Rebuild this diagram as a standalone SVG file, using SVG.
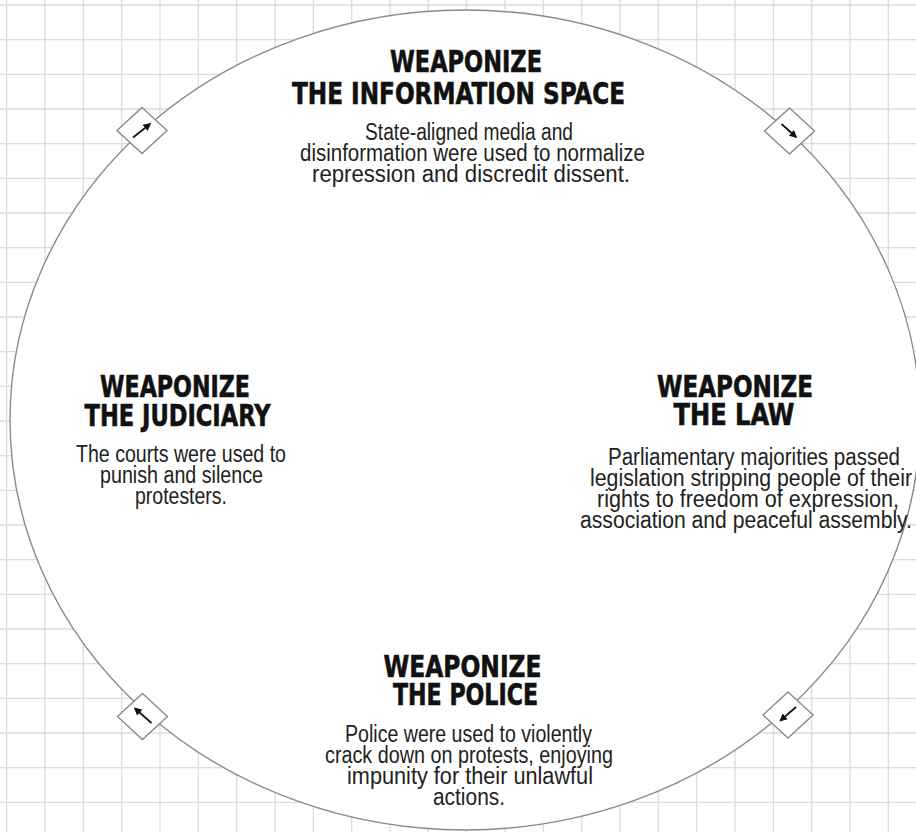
<svg xmlns="http://www.w3.org/2000/svg" width="916" height="832" viewBox="0 0 916 832">
<defs>
<style>
.grid line{stroke:#dcdcdc;stroke-width:1.3}
.ring{fill:#fff;stroke:#8a8a8a;stroke-width:1.4}
.dia{fill:#fff;stroke:#8a8a8a;stroke-width:1.4}
.arr{stroke:#111;stroke-width:1.7;fill:none;marker-end:url(#ah)}
.t{font-family:"Liberation Sans Narrow","DejaVu Sans Condensed","Liberation Sans",sans-serif;font-weight:bold;font-size:31px;fill:#111;stroke:#111;stroke-width:0.6;text-anchor:middle}
.b{font-family:"Liberation Sans Narrow","Liberation Sans",Arial,sans-serif;font-size:23px;fill:#222;text-anchor:middle}
</style>
<marker id="ah" viewBox="0 0 10 10" refX="8" refY="5" markerWidth="4.6" markerHeight="4.6" orient="auto" markerUnits="strokeWidth">
<path d="M0,0 L10,5 L0,10 z" fill="#111"/>
</marker>
</defs>
<rect width="916" height="832" fill="#fff"/>
<g class="grid">
<line x1="6.7" y1="0" x2="6.7" y2="832"/><line x1="45" y1="0" x2="45" y2="832"/><line x1="83.3" y1="0" x2="83.3" y2="832"/><line x1="121.7" y1="0" x2="121.7" y2="832"/><line x1="160" y1="0" x2="160" y2="832"/><line x1="198.3" y1="0" x2="198.3" y2="832"/><line x1="236.7" y1="0" x2="236.7" y2="832"/><line x1="275" y1="0" x2="275" y2="832"/><line x1="313.3" y1="0" x2="313.3" y2="832"/><line x1="351.7" y1="0" x2="351.7" y2="832"/><line x1="390" y1="0" x2="390" y2="832"/><line x1="428.3" y1="0" x2="428.3" y2="832"/><line x1="466.7" y1="0" x2="466.7" y2="832"/><line x1="505" y1="0" x2="505" y2="832"/><line x1="543.3" y1="0" x2="543.3" y2="832"/><line x1="581.7" y1="0" x2="581.7" y2="832"/><line x1="620" y1="0" x2="620" y2="832"/><line x1="658.3" y1="0" x2="658.3" y2="832"/><line x1="696.7" y1="0" x2="696.7" y2="832"/><line x1="735" y1="0" x2="735" y2="832"/><line x1="773.3" y1="0" x2="773.3" y2="832"/><line x1="811.7" y1="0" x2="811.7" y2="832"/><line x1="850" y1="0" x2="850" y2="832"/><line x1="888.3" y1="0" x2="888.3" y2="832"/>
<line x1="0" y1="5" x2="916" y2="5"/><line x1="0" y1="39.7" x2="916" y2="39.7"/><line x1="0" y1="74.3" x2="916" y2="74.3"/><line x1="0" y1="109" x2="916" y2="109"/><line x1="0" y1="143.7" x2="916" y2="143.7"/><line x1="0" y1="178.3" x2="916" y2="178.3"/><line x1="0" y1="213" x2="916" y2="213"/><line x1="0" y1="247.7" x2="916" y2="247.7"/><line x1="0" y1="282.3" x2="916" y2="282.3"/><line x1="0" y1="317" x2="916" y2="317"/><line x1="0" y1="351.7" x2="916" y2="351.7"/><line x1="0" y1="386.3" x2="916" y2="386.3"/><line x1="0" y1="421" x2="916" y2="421"/><line x1="0" y1="455.7" x2="916" y2="455.7"/><line x1="0" y1="490.3" x2="916" y2="490.3"/><line x1="0" y1="525" x2="916" y2="525"/><line x1="0" y1="559.7" x2="916" y2="559.7"/><line x1="0" y1="594.3" x2="916" y2="594.3"/><line x1="0" y1="629" x2="916" y2="629"/><line x1="0" y1="663.7" x2="916" y2="663.7"/><line x1="0" y1="698.3" x2="916" y2="698.3"/><line x1="0" y1="733" x2="916" y2="733"/><line x1="0" y1="767.7" x2="916" y2="767.7"/><line x1="0" y1="802.3" x2="916" y2="802.3"/>
</g>
<g id="connectors">
<ellipse class="ring" cx="465" cy="420" rx="455" ry="410"/>
<g id="arrow-info-to-law">
<polygon class="dia" points="789.5,108 814.5,131 789.5,154 764.5,131"/>
<line class="arr" x1="781.5" y1="124" x2="796" y2="137"/>
</g>
<g id="arrow-law-to-police">
<polygon class="dia" points="788,692 813,715 788,738 763,715"/>
<line class="arr" x1="796" y1="707" x2="780.5" y2="720.5"/>
</g>
<g id="arrow-police-to-judiciary">
<polygon class="dia" points="142.5,693.5 167.5,716.5 142.5,739.5 117.5,716.5"/>
<line class="arr" x1="151.5" y1="723" x2="135" y2="708.5"/>
</g>
<g id="arrow-judiciary-to-info">
<polygon class="dia" points="142,107.5 167,130.5 142,153.5 117,130.5"/>
<line class="arr" x1="133" y1="137.5" x2="150" y2="124"/>
</g>
</g>
<g id="node-information">
<text class="t" x="466" y="72" textLength="152" lengthAdjust="spacingAndGlyphs">WEAPONIZE</text>
<text class="t" x="458.5" y="104" textLength="333" lengthAdjust="spacingAndGlyphs">THE INFORMATION SPACE</text>
<text class="b" x="469" y="140" textLength="208" lengthAdjust="spacingAndGlyphs">State-aligned media and</text>
<text class="b" x="472.5" y="161" textLength="345" lengthAdjust="spacingAndGlyphs">disinformation were used to normalize</text>
<text class="b" x="471" y="182" textLength="318" lengthAdjust="spacingAndGlyphs">repression and discredit dissent.</text>
</g>
<g id="node-judiciary">
<text class="t" x="175" y="397" textLength="150" lengthAdjust="spacingAndGlyphs">WEAPONIZE</text>
<text class="t" x="177.5" y="426" textLength="186" lengthAdjust="spacingAndGlyphs">THE JUDICIARY</text>
<text class="b" x="181" y="462" textLength="210" lengthAdjust="spacingAndGlyphs">The courts were used to</text>
<text class="b" x="181.5" y="483" textLength="163" lengthAdjust="spacingAndGlyphs">punish and silence</text>
<text class="b" x="181" y="504" textLength="92" lengthAdjust="spacingAndGlyphs">protesters.</text>
</g>
<g id="node-law">
<text class="t" x="735" y="397" textLength="156" lengthAdjust="spacingAndGlyphs">WEAPONIZE</text>
<text class="t" x="734" y="425" textLength="121" lengthAdjust="spacingAndGlyphs">THE LAW</text>
<text class="b" x="754" y="465" textLength="292" lengthAdjust="spacingAndGlyphs">Parliamentary majorities passed</text>
<text class="b" x="751" y="486" textLength="322" lengthAdjust="spacingAndGlyphs">legislation stripping people of their</text>
<text class="b" x="748" y="507" textLength="302" lengthAdjust="spacingAndGlyphs">rights to freedom of expression,</text>
<text class="b" x="746" y="528" textLength="332" lengthAdjust="spacingAndGlyphs">association and peaceful assembly.</text>
</g>
<g id="node-police">
<text class="t" x="462.5" y="677" textLength="158" lengthAdjust="spacingAndGlyphs">WEAPONIZE</text>
<text class="t" x="465.5" y="705" textLength="145" lengthAdjust="spacingAndGlyphs">THE POLICE</text>
<text class="b" x="468.5" y="742" textLength="247" lengthAdjust="spacingAndGlyphs">Police were used to violently</text>
<text class="b" x="469" y="763" textLength="288" lengthAdjust="spacingAndGlyphs">crack down on protests, enjoying</text>
<text class="b" x="470" y="784" textLength="246" lengthAdjust="spacingAndGlyphs">impunity for their unlawful</text>
<text class="b" x="469" y="805" textLength="72" lengthAdjust="spacingAndGlyphs">actions.</text>
</g>
</svg>
